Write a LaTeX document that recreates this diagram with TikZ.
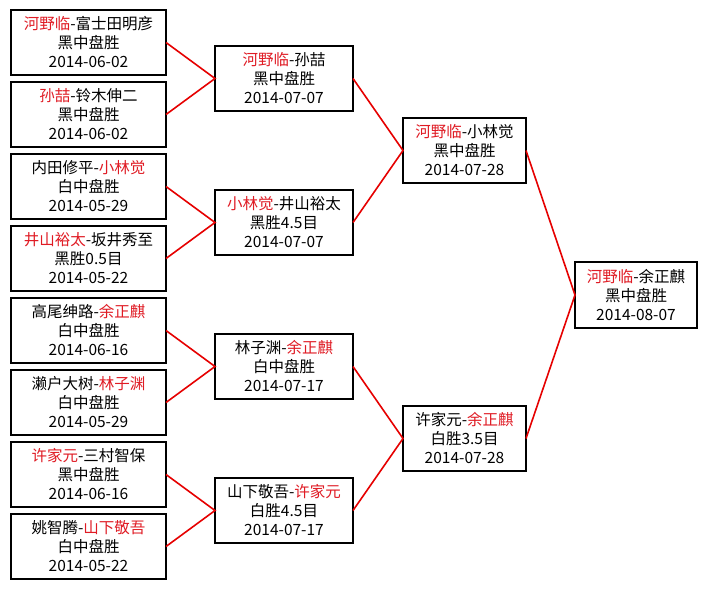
\documentclass[tikz,border=0pt]{standalone}
\usepackage{fontspec}
\setmainfont{Noto Sans CJK SC}
\definecolor{winred}{HTML}{E01B24}
\definecolor{linkred}{HTML}{E60000}
\newcommand{\wn}[1]{\textcolor{winred}{#1}}

\begin{document}
\begin{tikzpicture}[x=1pt,y=-1pt,font=\fontsize{15.5}{19}\selectfont,line join=miter]
  \tikzset{game/.style={draw=black,line width=1.8pt,fill=white,align=center,minimum height=65pt,inner sep=0pt,outer sep=0pt},
    link/.style={draw=linkred,line width=1.6pt}}
  \fill[white] (0,0) rectangle (708,589);
  % round of 16
  \foreach \n/\y/\txt in {1/42.5/{\wn{河野临}-富士田明彦\\黑中盘胜\\2014-06-02},
    2/114.5/{\wn{孙喆}-铃木伸二\\黑中盘胜\\2014-06-02},
    3/186.5/{内田修平-\wn{小林觉}\\白中盘胜\\2014-05-29},
    4/258.5/{\wn{井山裕太}-坂井秀至\\黑胜0.5目\\2014-05-22},
    5/330.5/{高尾绅路-\wn{余正麒}\\白中盘胜\\2014-06-16},
    6/402.5/{濑户大树-\wn{林子渊}\\白中盘胜\\2014-05-29},
    7/474.5/{\wn{许家元}-三村智保\\黑中盘胜\\2014-06-16},
    8/546.5/{姚智腾-\wn{山下敬吾}\\白中盘胜\\2014-05-22}}{
    \node[game,minimum width=155pt] (a\n) at (88.5,\y) {\txt};
  }
  % quarter finals
  \foreach \n/\y/\txt in {1/78.5/{\wn{河野临}-孙喆\\黑中盘胜\\2014-07-07},
    2/222.5/{\wn{小林觉}-井山裕太\\黑胜4.5目\\2014-07-07},
    3/366.5/{林子渊-\wn{余正麒}\\白中盘胜\\2014-07-17},
    4/510.5/{山下敬吾-\wn{许家元}\\白胜4.5目\\2014-07-17}}{
    \node[game,minimum width=138pt] (b\n) at (284,\y) {\txt};
  }
  % semi finals
  \node[game,minimum width=123pt] (c1) at (464.5,150.5) {\wn{河野临}-小林觉\\黑中盘胜\\2014-07-28};
  \node[game,minimum width=123pt] (c2) at (464.5,438.5) {许家元-\wn{余正麒}\\白胜3.5目\\2014-07-28};
  % final
  \node[game,minimum width=122pt,minimum height=66pt] (d) at (636,295) {\wn{河野临}-余正麒\\黑中盘胜\\2014-08-07};
  % links
  \foreach \i/\j/\k in {1/2/1,3/4/2,5/6/3,7/8/4}{
    \draw[link] (a\i.east) -- (b\k.west) -- (a\j.east);
  }
  \draw[link] (b1.east) -- (c1.west) -- (b2.east);
  \draw[link] (b3.east) -- (c2.west) -- (b4.east);
  \draw[link] (c1.east) -- (d.west) -- (c2.east);
\end{tikzpicture}
\end{document}
